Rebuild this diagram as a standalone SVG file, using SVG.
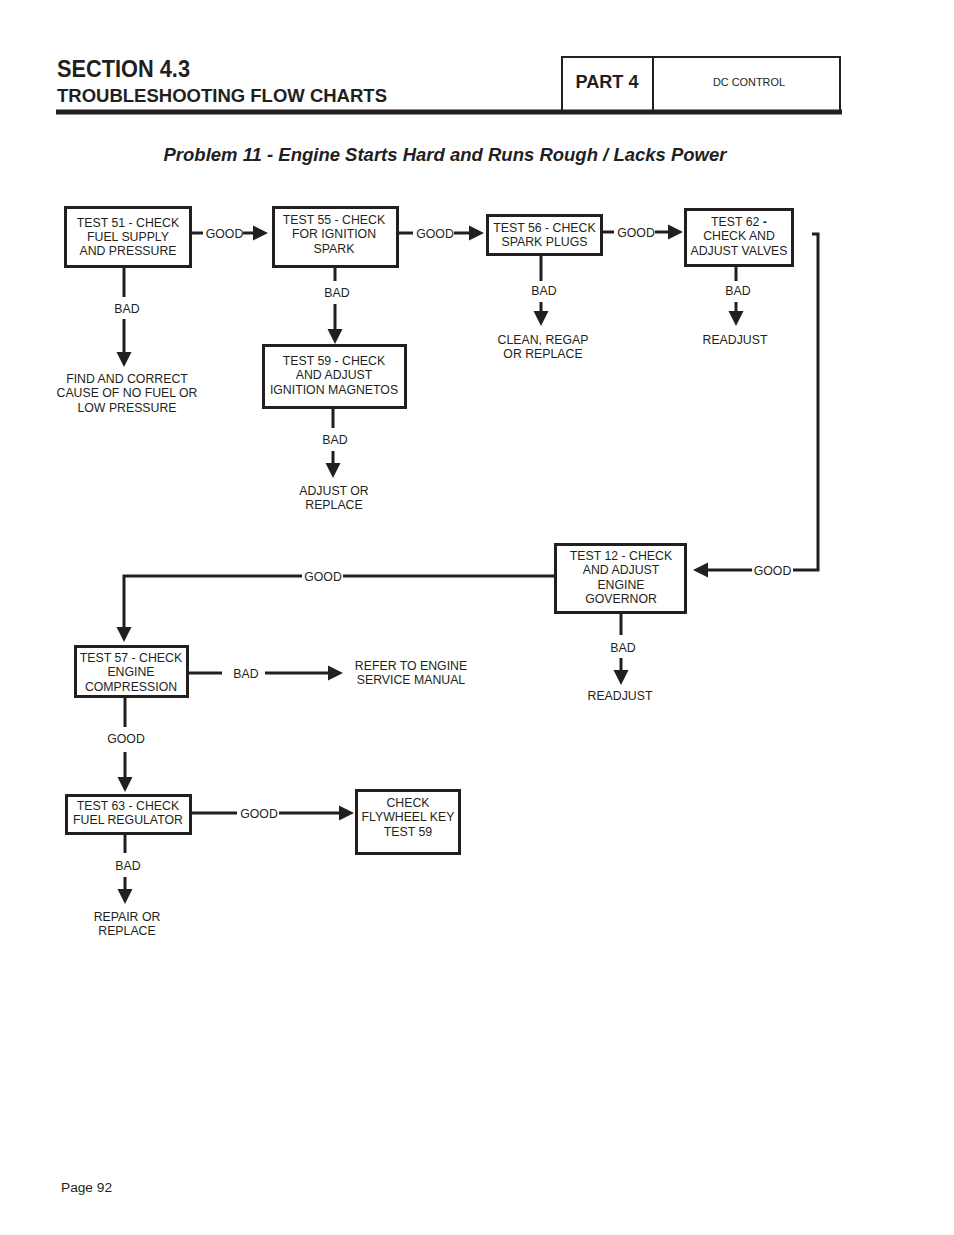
<svg xmlns="http://www.w3.org/2000/svg" width="954" height="1235" viewBox="0 0 954 1235">
<style>
text{font-family:"Liberation Sans",Arial,Helvetica,sans-serif;fill:#231f20}
.t{font-size:12.3px;text-anchor:middle}
.box{fill:#fff;stroke:#231f20;stroke-width:3}
.ln{fill:none;stroke:#231f20;stroke-width:3}
.ar{fill:none;stroke:#231f20;stroke-width:3;marker-end:url(#ah)}
</style>
<defs>
<marker id="ah" markerUnits="userSpaceOnUse" markerWidth="16" markerHeight="16" viewBox="0 -8 16 16" refX="0" refY="0" orient="auto">
<path d="M0,-7.5 L15,0 L0,7.5 z" fill="#231f20"/>
</marker>
</defs>
<rect width="954" height="1235" fill="#fff"/>
<g id="header">
<text x="57" y="77" font-size="23.5" font-weight="bold" textLength="133" lengthAdjust="spacingAndGlyphs">SECTION 4.3</text>
<text x="57" y="101.5" font-size="18.6" font-weight="bold" textLength="330" lengthAdjust="spacingAndGlyphs">TROUBLESHOOTING FLOW CHARTS</text>
<path d="M561,57 H841 M562,57 V111 M653,57 V111 M840,57 V111" fill="none" stroke="#231f20" stroke-width="2"/>
<rect x="56" y="109.5" width="786" height="5" fill="#231f20"/>
<text x="607" y="88" font-size="18.5" font-weight="bold" text-anchor="middle" textLength="63" lengthAdjust="spacingAndGlyphs">PART 4</text>
<text x="749" y="86" font-size="10.9" text-anchor="middle">DC CONTROL</text>
</g>
<text x="445" y="161" font-size="18.5" font-weight="bold" font-style="italic" text-anchor="middle">Problem 11 - Engine Starts Hard and Runs Rough / Lacks Power</text>
<g id="connectors">
<path class="ln" d="M190,233 H203"/><path class="ar" d="M243,233 H253"/>
<text class="t" x="224.5" y="237.5">GOOD</text>
<path class="ln" d="M397,233 H413"/><path class="ar" d="M454,233 H469"/>
<text class="t" x="435" y="237.5">GOOD</text>
<path class="ln" d="M601,232 H614"/><path class="ar" d="M655,232 H668"/>
<text class="t" x="636" y="236.5">GOOD</text>
<path class="ln" d="M124,266 V297"/><path class="ar" d="M124,319 V352"/>
<text class="t" x="127" y="312.5">BAD</text>
<path class="ln" d="M335,266 V281"/><path class="ar" d="M335,304 V329"/>
<text class="t" x="337" y="296.5">BAD</text>
<path class="ln" d="M333,408 V428"/><path class="ar" d="M333,451 V463"/>
<text class="t" x="335" y="443.5">BAD</text>
<path class="ln" d="M541,254 V281"/><path class="ar" d="M541,302 V311"/>
<text class="t" x="544" y="294.5">BAD</text>
<path class="ln" d="M736,265 V281"/><path class="ar" d="M736,302 V311"/>
<text class="t" x="738" y="294.5">BAD</text>
<path class="ln" d="M812,234 H818 V570 H793"/><path class="ar" d="M752,570 H708"/>
<text class="t" x="772.5" y="574.5">GOOD</text>
<path class="ln" d="M621,612 V635"/><path class="ar" d="M621,658 V670"/>
<text class="t" x="623" y="651.5">BAD</text>
<path class="ln" d="M555,576 H343"/><path class="ar" d="M302,576 H124 V627"/>
<text class="t" x="323" y="580.5">GOOD</text>
<path class="ln" d="M187,673 H222"/><path class="ar" d="M265,673 H328"/>
<text class="t" x="246" y="677.5">BAD</text>
<path class="ln" d="M125,697 V727"/><path class="ar" d="M125,752 V777"/>
<text class="t" x="126" y="742.5">GOOD</text>
<path class="ln" d="M190,813 H237"/><path class="ar" d="M279,813 H339"/>
<text class="t" x="259" y="817.5">GOOD</text>
<path class="ln" d="M125,833 V853"/><path class="ar" d="M125,877 V889"/>
<text class="t" x="128" y="869.5">BAD</text>
</g>
<g id="test51">
<rect class="box" x="65.5" y="207.5" width="125" height="59"/>
<text class="t" x="128" y="226.5">TEST 51 - CHECK</text>
<text class="t" x="128" y="240.5">FUEL SUPPLY</text>
<text class="t" x="128" y="255">AND PRESSURE</text>
</g>
<g id="result51">
<text class="t" x="127" y="382.5">FIND AND CORRECT</text>
<text class="t" x="127" y="397">CAUSE OF NO FUEL OR</text>
<text class="t" x="127" y="411.5">LOW PRESSURE</text>
</g>
<g id="test55">
<rect class="box" x="273.5" y="207.5" width="124" height="59"/>
<text class="t" x="334" y="223.5">TEST 55 - CHECK</text>
<text class="t" x="334" y="238">FOR IGNITION</text>
<text class="t" x="334" y="252.5">SPARK</text>
</g>
<g id="test59">
<rect class="box" x="263.5" y="345.5" width="142" height="62"/>
<text class="t" x="334" y="364.5">TEST 59 - CHECK</text>
<text class="t" x="334" y="379">AND ADJUST</text>
<text class="t" x="334" y="393.5">IGNITION MAGNETOS</text>
</g>
<g id="result59">
<text class="t" x="334" y="494.5">ADJUST OR</text>
<text class="t" x="334" y="509">REPLACE</text>
</g>
<g id="test56">
<rect class="box" x="487.5" y="215.5" width="114" height="39"/>
<text class="t" x="544.5" y="231.5">TEST 56 - CHECK</text>
<text class="t" x="544.5" y="246">SPARK PLUGS</text>
</g>
<g id="result56">
<text class="t" x="543" y="343.5">CLEAN, REGAP</text>
<text class="t" x="543" y="358">OR REPLACE</text>
</g>
<g id="test62">
<rect class="box" x="685.5" y="209.5" width="107" height="56"/>
<text class="t" x="739" y="225.5">TEST 62 <tspan font-weight="bold">-</tspan></text>
<text class="t" x="739" y="240">CHECK AND</text>
<text class="t" x="739" y="254.5">ADJUST VALVES</text>
</g>
<g id="result62">
<text class="t" x="735" y="343.5">READJUST</text>
</g>
<g id="test12">
<rect class="box" x="555.5" y="544.5" width="130" height="68"/>
<text class="t" x="621" y="559.5">TEST 12 - CHECK</text>
<text class="t" x="621" y="574">AND ADJUST</text>
<text class="t" x="621" y="588.5">ENGINE</text>
<text class="t" x="621" y="603">GOVERNOR</text>
</g>
<g id="result12">
<text class="t" x="620" y="699.5">READJUST</text>
</g>
<g id="test57">
<rect class="box" x="75.5" y="646.5" width="112" height="50"/>
<text class="t" x="131" y="661.5">TEST 57 - CHECK</text>
<text class="t" x="131" y="676">ENGINE</text>
<text class="t" x="131" y="690.5">COMPRESSION</text>
</g>
<g id="result57">
<text class="t" x="411" y="669.5">REFER TO ENGINE</text>
<text class="t" x="411" y="684">SERVICE MANUAL</text>
</g>
<g id="test63">
<rect class="box" x="66.5" y="795.5" width="124" height="38"/>
<text class="t" x="128" y="809.5">TEST 63 - CHECK</text>
<text class="t" x="128" y="824">FUEL REGULATOR</text>
</g>
<g id="flywheel">
<rect class="box" x="356.5" y="790.5" width="103" height="63"/>
<text class="t" x="408" y="806.5">CHECK</text>
<text class="t" x="408" y="821">FLYWHEEL KEY</text>
<text class="t" x="408" y="835.5">TEST 59</text>
</g>
<g id="result63">
<text class="t" x="127" y="920.5">REPAIR OR</text>
<text class="t" x="127" y="935">REPLACE</text>
</g>
<text x="61" y="1192" font-size="13.7">Page 92</text>
</svg>
